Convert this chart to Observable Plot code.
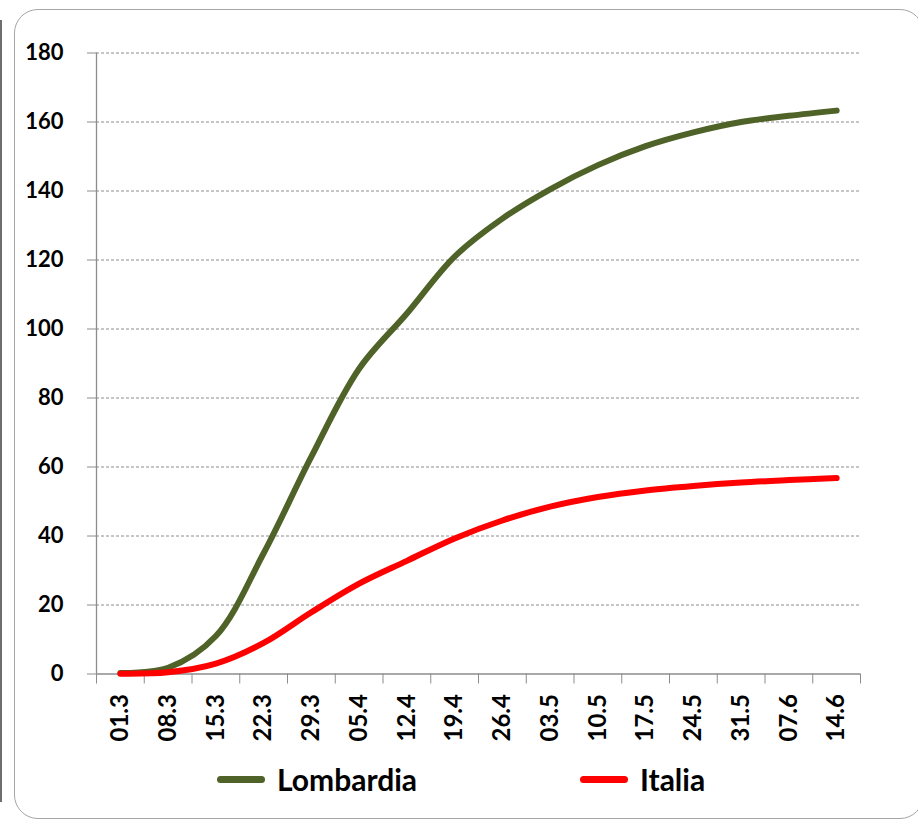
<!DOCTYPE html>
<html>
<head>
<meta charset="utf-8">
<script src="https://cdn.jsdelivr.net/npm/d3@7"></script>
<script src="https://cdn.jsdelivr.net/npm/@observablehq/plot@0.6"></script>
<style>
  html, body { margin: 0; padding: 0; background: #fff; }
  body { width: 918px; height: 822px; position: relative; overflow: hidden; font-family: Lato, "Open Sans", sans-serif; }
  #frame { position: absolute; left: 14px; top: 9px; width: 910px; height: 810px; border: 1.6px solid #a6a6a6; border-radius: 24px; box-sizing: border-box; }
  #leftline { position: absolute; left: 0px; top: 20px; width: 2px; height: 782px; background: #6e6e6e; }
  #chart { position: absolute; left: 0; top: 0; }
  #legend { position: absolute; top: 759px; left: 0; width: 918px; height: 40px; }
  .item { position: absolute; top: 0; height: 40px; display: flex; align-items: center; font-weight: 700; font-size: 30px; color: #000; }
  .sw { width: 48px; height: 7px; border-radius: 4px; margin-right: 12px; }
</style>
</head>
<body>
<div id="leftline"></div>
<div id="frame"></div>
<div id="chart"></div>
<div id="legend"></div>
<script>
const labels = ["01.3","08.3","15.3","22.3","29.3","05.4","12.4","19.4","26.4","03.5","10.5","17.5","24.5","31.5","07.6","14.6"];
const seriesNames = ["Lombardia", "Italia"];
const lombardia = [0.3, 1.8, 11, 35, 63, 88.5, 104.5, 121, 132, 140.5, 147.5, 153, 157, 160, 161.8, 163.3];
const italia = [0.1, 0.5, 3, 9, 17.9, 26.2, 32.8, 39.3, 44.5, 48.5, 51.3, 53.2, 54.5, 55.5, 56.2, 56.8];
const yTicks = [0, 20, 40, 60, 80, 100, 120, 140, 160, 180];
const colors = ["#4f6228", "#ff0000"];

const idx = labels.map((_, i) => i);
const bounds = d3.range(-0.5, labels.length, 1);
const gray = "#8c8c8c";

const chart = Plot.plot({
  width: 918,
  height: 760,
  marginLeft: 96,
  marginRight: 58,
  marginTop: 52.5,
  marginBottom: 86.5,
  x: { domain: [-0.5, labels.length - 0.5] },
  y: { domain: [0, 180] },
  style: { fontFamily: "Lato, 'Open Sans', sans-serif", background: "transparent", overflow: "visible" },
  marks: [
    Plot.gridY(yTicks.filter(d => d > 0), { stroke: gray, strokeOpacity: 1, strokeWidth: 1, strokeDasharray: "3,2" }),
    Plot.axisY(yTicks, { tickSize: 9, tickPadding: 24, fontSize: 22, fontWeight: "bold", fill: "black", stroke: gray, strokeOpacity: 1, label: null }),
    Plot.axisX(idx, { tickSize: 0, tickPadding: 20, tickRotate: -90, tickFormat: i => labels[i], fontSize: 24, fontWeight: "bold", fill: "black", label: null }),
    Plot.axisX(bounds, { tickSize: 10, tickFormat: () => "", stroke: gray, strokeOpacity: 1, label: null }),
    Plot.ruleY([0], { stroke: gray, strokeWidth: 1.3 }),
    Plot.ruleX([-0.5], { y1: 0, y2: 180, stroke: gray, strokeWidth: 1.3 }),
    Plot.line(lombardia, { x: (d, i) => i, y: d => d, stroke: colors[0], strokeWidth: 6, curve: "catmull-rom", strokeLinecap: "round", strokeLinejoin: "round" }),
    Plot.line(italia, { x: (d, i) => i, y: d => d, stroke: colors[1], strokeWidth: 6, curve: "catmull-rom", strokeLinecap: "round", strokeLinejoin: "round" })
  ]
});
document.getElementById("chart").appendChild(chart);

const legend = document.getElementById("legend");
const lefts = [217, 580];
seriesNames.forEach((name, k) => {
  const item = document.createElement("div");
  item.className = "item";
  item.style.left = lefts[k] + "px";
  const sw = document.createElement("div");
  sw.className = "sw";
  sw.style.background = colors[k];
  item.appendChild(sw);
  const t = document.createElement("span");
  t.textContent = name;
  item.appendChild(t);
  legend.appendChild(item);
});
</script>
</body>
</html>
